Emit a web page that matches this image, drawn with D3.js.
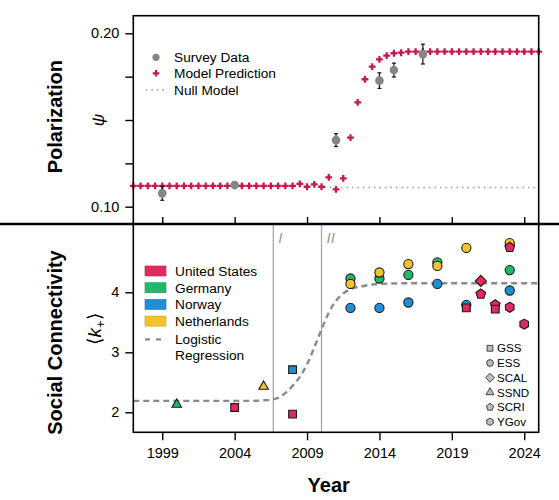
<!DOCTYPE html>
<html><head><meta charset="utf-8">
<script src="https://cdn.jsdelivr.net/npm/d3@7"></script>
<style>
body{margin:0;background:#fff;}
text{font-family:"Liberation Sans",Arial,Helvetica,sans-serif;}
</style></head>
<body><svg id="c" width="559" height="500"></svg>
<script>
// ---------- DATA ----------
const xTickYears = [1999, 2004, 2009, 2014, 2019, 2024];
const psiTicks = [0.10, 0.125, 0.15, 0.175, 0.20];
const psiTickLabels = ["0.10", "", "", "", "0.20"];
const kTicks = [2, 3, 4];

const surveyYears = [1999, 2004, 2011, 2014, 2015, 2017];
const surveyPsi   = [0.1077, 0.1125, 0.1384, 0.1727, 0.1788, 0.1880];
const surveyErr   = [0.0040, 0.0015, 0.0037, 0.0045, 0.0040, 0.0057];

const modelYears = [1997,1997.5,1998,1998.5,1999,1999.5,2000,2000.5,2001,2001.5,2002,2002.5,2003,2003.5,2004,2004.5,2005,2005.5,2006,2006.5,2007,2007.5,2008,
  2008.5,2009,2009.5,2010,2010.5,2011,2011.5,2012,2012.5,2013,2013.5,2014,2014.5,2015,2015.5,
  2016,2016.5,2017,2017.5,2018,2018.5,2019,2019.5,2020,2020.5,2021,2021.5,2022,2022.5,2023,2023.5,2024,2024.5,2025];
const modelPsi = [0.112,0.112,0.112,0.112,0.112,0.112,0.112,0.112,0.112,0.112,0.112,0.112,0.112,0.112,0.112,0.112,0.112,0.112,0.112,0.112,0.112,0.112,0.112,
  0.1132,0.1115,0.1129,0.1115,0.1169,0.1100,0.1163,0.1398,0.1602,0.1735,0.1808,0.1850,0.1871,0.1885,0.1888,
  0.1894,0.1894,0.1894,0.1894,0.1894,0.1894,0.1894,0.1894,0.1894,0.1894,0.1894,0.1894,0.1894,0.1894,0.1894,0.1894,0.1894,0.1894,0.1894];
const nullPsi = 0.1111;
const nullStartYear = 2010.2;

const countries = ["United States", "Germany", "Norway", "Netherlands"];
const countryColors = ["#E42A5D", "#22B86C", "#1F8FD5", "#F3C32E"];
const surveys = ["GSS", "ESS", "SCAL", "SSND", "SCRI", "YGov"];

// points: year, <k+>, country, survey (drawing order: Germany, Norway, Netherlands, US)
const ptYear    = [2000, 2012, 2014, 2016, 2018, 2023,   2008, 2012, 2014, 2016, 2018, 2020, 2023,   2006, 2012, 2014, 2016, 2018, 2020, 2023,   2004, 2008, 2020, 2021, 2021, 2022, 2022, 2023, 2023, 2024];
const ptK       = [2.13, 4.23, 4.23, 4.29, 4.50, 4.37,   2.71, 3.74, 3.74, 3.83, 4.14, 3.79, 4.03,   2.43, 4.14, 4.33, 4.47, 4.44, 4.74, 4.82,   2.08, 1.97, 3.74, 4.19, 3.97, 3.79, 3.72, 4.75, 3.75, 3.47];
const ptCountry = ["Germany","Germany","Germany","Germany","Germany","Germany",
  "Norway","Norway","Norway","Norway","Norway","Norway","Norway",
  "Netherlands","Netherlands","Netherlands","Netherlands","Netherlands","Netherlands","Netherlands",
  "United States","United States","United States","United States","United States","United States","United States","United States","United States","United States"];
const ptSurvey  = ["SSND","ESS","ESS","ESS","ESS","ESS",
  "GSS","ESS","ESS","ESS","ESS","ESS","ESS",
  "SSND","ESS","ESS","ESS","ESS","ESS","ESS",
  "GSS","GSS","GSS","SCAL","SCRI","SCRI","GSS","SCRI","YGov","YGov"];

// logistic regression curve
const logitYears = [1997, 2005, 2006, 2006.5, 2007, 2007.5, 2008, 2008.5, 2009, 2009.5, 2010, 2010.5, 2011, 2011.5, 2012, 2013, 2014, 2016, 2025];
const logitK     = [2.19, 2.19, 2.20, 2.21, 2.24, 2.32, 2.44, 2.59, 2.80, 3.08, 3.38, 3.66, 3.86, 3.98, 4.05, 4.11, 4.14, 4.15, 4.15];

const phaseYears = [2006.67, 2010.0];
const phaseLabels = ["I", "II"];

// ---------- LAYOUT ----------
const L = 133.3, R = 538.7;
const T1 = 15.7, B1 = 224, T2 = 224, B2 = 432.3;
const svg = d3.select("#c");
const x = d3.scaleLinear().domain([1997, 2025]).range([L, R]);
const y1 = d3.scaleLinear().domain([0.10, 0.20]).range([206.7, 33.3]);
const y2 = d3.scaleLinear().domain([2, 4]).range([412.3, 292.3]);
const FONT = '"Liberation Sans",Arial,Helvetica,sans-serif';

// symbol types
function polySymbol(n, rot) {
  return { draw(ctx, size) {
    const r = Math.sqrt(size / (0.5 * n * Math.sin(2 * Math.PI / n)));
    for (let i = 0; i < n; i++) {
      const a = rot + 2 * Math.PI * i / n;
      const px = r * Math.sin(a), py = -r * Math.cos(a);
      i ? ctx.lineTo(px, py) : ctx.moveTo(px, py);
    }
    ctx.closePath();
  }};
}
const shapeType = {
  GSS: d3.symbolSquare, ESS: d3.symbolCircle, SCAL: polySymbol(4, 0),
  SSND: d3.symbolTriangle, SCRI: polySymbol(5, 0), YGov: polySymbol(6, 0)
};
const shapeSize = {GSS: 60, ESS: 66, SCAL: 62, SSND: 40, SCRI: 62, YGov: 64};
const legendSize = {GSS: 34, ESS: 36, SCAL: 40, SSND: 28, SCRI: 34, YGov: 36};

// ---------- TOP PANEL ----------
svg.append("line").attr("x1", x(nullStartYear)).attr("x2", R)
  .attr("y1", y1(nullPsi)).attr("y2", y1(nullPsi))
  .attr("stroke", "#9a9a9a").attr("stroke-width", 1.5).attr("stroke-dasharray", "1.5,4");

svg.append("g").selectAll("path").data(modelYears).join("path")
  .attr("transform", (d, i) => `translate(${x(d)},${y1(modelPsi[i])})`)
  .attr("d", d3.symbol(d3.symbolCross, 26)())
  .attr("fill", "#C8174A");

const sg = svg.append("g");
surveyYears.forEach((yr, i) => {
  const cx = x(yr), lo = y1(surveyPsi[i] - surveyErr[i]), hi = y1(surveyPsi[i] + surveyErr[i]);
  sg.append("line").attr("x1", cx).attr("x2", cx).attr("y1", lo).attr("y2", hi).attr("stroke", "#111").attr("stroke-width", 1.2);
  [lo, hi].forEach(yy => sg.append("line").attr("x1", cx - 2).attr("x2", cx + 2).attr("y1", yy).attr("y2", yy).attr("stroke", "#111").attr("stroke-width", 1.2));
  sg.append("circle").attr("cx", cx).attr("cy", y1(surveyPsi[i])).attr("r", 4.3).attr("fill", "#858585");
});

svg.append("rect").attr("x", L).attr("y", T1).attr("width", R - L).attr("height", B1 - T1)
  .attr("fill", "none").attr("stroke", "#000").attr("stroke-width", 1.6);

const ay1 = d3.axisLeft(y1).tickValues(psiTicks).tickSize(8).tickPadding(6)
  .tickFormat((d, i) => psiTickLabels[i]);
const gy1 = svg.append("g").attr("transform", `translate(${L},0)`).call(ay1);
const ax1 = d3.axisTop(x).tickValues(xTickYears).tickSize(7).tickFormat("");
const gx1 = svg.append("g").attr("transform", `translate(0,${B1})`).call(ax1);

svg.append("circle").attr("cx", 156).attr("cy", 57.3).attr("r", 3.6).attr("fill", "#858585");
svg.append("path").attr("transform", "translate(156,73.3)").attr("d", d3.symbol(d3.symbolCross, 24)()).attr("fill", "#C8174A");
svg.append("line").attr("x1", 146).attr("x2", 167).attr("y1", 90).attr("y2", 90)
  .attr("stroke", "#9a9a9a").attr("stroke-width", 1.5).attr("stroke-dasharray", "1.5,4");
[["Survey Data", 57.3], ["Model Prediction", 73.3], ["Null Model", 90]].forEach(([t, yy]) =>
  svg.append("text").attr("x", 174).attr("y", yy).attr("dy", "0.36em").attr("font-size", 13.7).text(t));

// ---------- BOTTOM PANEL ----------
phaseYears.forEach((yr, i) => {
  svg.append("line").attr("x1", x(yr)).attr("x2", x(yr)).attr("y1", T2).attr("y2", B2)
    .attr("stroke", "#a8a8a8").attr("stroke-width", 1.3);
  svg.append("text").attr("x", x(yr) + 5).attr("y", 243)
    .attr("font-family", "'Liberation Serif','DejaVu Serif',serif").attr("font-style", "italic")
    .attr("font-size", 15).attr("fill", "#999").text(phaseLabels[i]);
});

svg.append("path").datum(logitYears)
  .attr("d", d3.line().x(d => x(d)).y((d, i) => y2(logitK[i])).curve(d3.curveMonotoneX))
  .attr("fill", "none").attr("stroke", "#8a8a8a").attr("stroke-width", 2.4).attr("stroke-dasharray", "6,4");

svg.append("g").selectAll("path").data(ptYear).join("path")
  .attr("transform", (d, i) => `translate(${x(d)},${y2(ptK[i])})`)
  .attr("d", (d, i) => d3.symbol(shapeType[ptSurvey[i]], shapeSize[ptSurvey[i]])())
  .attr("fill", (d, i) => countryColors[countries.indexOf(ptCountry[i])])
  .attr("stroke", "#1a1a1a").attr("stroke-width", 1.1);

svg.append("rect").attr("x", L).attr("y", T2).attr("width", R - L).attr("height", B2 - T2)
  .attr("fill", "none").attr("stroke", "#000").attr("stroke-width", 1.6);
svg.append("line").attr("x1", 0).attr("x2", 559).attr("y1", 224).attr("y2", 224)
  .attr("stroke", "#000").attr("stroke-width", 2.4);

const ay2 = d3.axisLeft(y2).tickValues(kTicks).tickSize(8).tickPadding(6).tickFormat(d3.format("d"));
const gy2 = svg.append("g").attr("transform", `translate(${L},0)`).call(ay2);
const ax2 = d3.axisBottom(x).tickValues(xTickYears).tickSize(8).tickPadding(7).tickFormat(d3.format("d"));
const gx2 = svg.append("g").attr("transform", `translate(0,${B2})`).call(ax2);

[gy1, gx1, gy2, gx2].forEach(g => {
  g.select(".domain").remove();
  g.selectAll(".tick line").attr("stroke", "#000").attr("stroke-width", 1.4);
  g.selectAll(".tick text").attr("font-family", FONT).attr("font-size", 14.5).attr("fill", "#000");
});

countries.forEach((c, i) => {
  const yy = 271 + i * 16.7;
  svg.append("rect").attr("x", 145).attr("y", yy - 5).attr("width", 21).attr("height", 10)
    .attr("fill", countryColors[i]).attr("stroke", d3.color(countryColors[i]).darker(0.6)).attr("stroke-width", 0.6);
  svg.append("text").attr("x", 175).attr("y", yy).attr("dy", "0.36em").attr("font-size", 13.7).text(c);
});
svg.append("line").attr("x1", 145).attr("x2", 167).attr("y1", 339.3).attr("y2", 339.3)
  .attr("stroke", "#8a8a8a").attr("stroke-width", 2.2).attr("stroke-dasharray", "5,6");
svg.append("text").attr("x", 175).attr("y", 339.3).attr("dy", "0.36em").attr("font-size", 13.7).text("Logistic");
svg.append("text").attr("x", 175).attr("y", 355.3).attr("dy", "0.36em").attr("font-size", 13.7).text("Regression");

surveys.forEach((s, i) => {
  const yy = 348.3 + i * 14.7;
  svg.append("path").attr("transform", `translate(490,${yy})`)
    .attr("d", d3.symbol(shapeType[s], legendSize[s])())
    .attr("fill", "#bdbdbd").attr("stroke", "#333").attr("stroke-width", 0.9);
  svg.append("text").attr("x", 497).attr("y", yy).attr("dy", "0.36em").attr("font-size", 11.6).text(s);
});

// ---------- AXIS TITLES ----------
svg.append("text").attr("transform", "translate(61.5,116.7) rotate(-90)").attr("text-anchor", "middle")
  .attr("font-weight", "bold").attr("font-size", 20).text("Polarization");
svg.append("text").attr("transform", "translate(61.5,342.5) rotate(-90)").attr("text-anchor", "middle")
  .attr("font-weight", "bold").attr("font-size", 20).text("Social Connectivity");
svg.append("text").attr("x", 328.7).attr("y", 491.7).attr("text-anchor", "middle")
  .attr("font-weight", "bold").attr("font-size", 20).text("Year");

svg.append("text").attr("transform", "translate(98,120) rotate(-90)").attr("text-anchor", "middle")
  .attr("dy", "0.35em").attr("font-family", "'DejaVu Serif','Liberation Serif',serif").attr("font-style", "italic")
  .attr("font-size", 17).text("ψ");
const kl = svg.append("text").attr("transform", "translate(101,329) rotate(-90)").attr("text-anchor", "middle")
  .attr("font-family", "'Liberation Serif','DejaVu Serif',serif").attr("font-size", 19);
kl.append("tspan").text("⟨");
kl.append("tspan").attr("font-style", "italic").text("k");
kl.append("tspan").attr("font-size", 13).attr("dy", 4).text("+");
kl.append("tspan").attr("dy", -4).text("⟩");
</script></body></html>
